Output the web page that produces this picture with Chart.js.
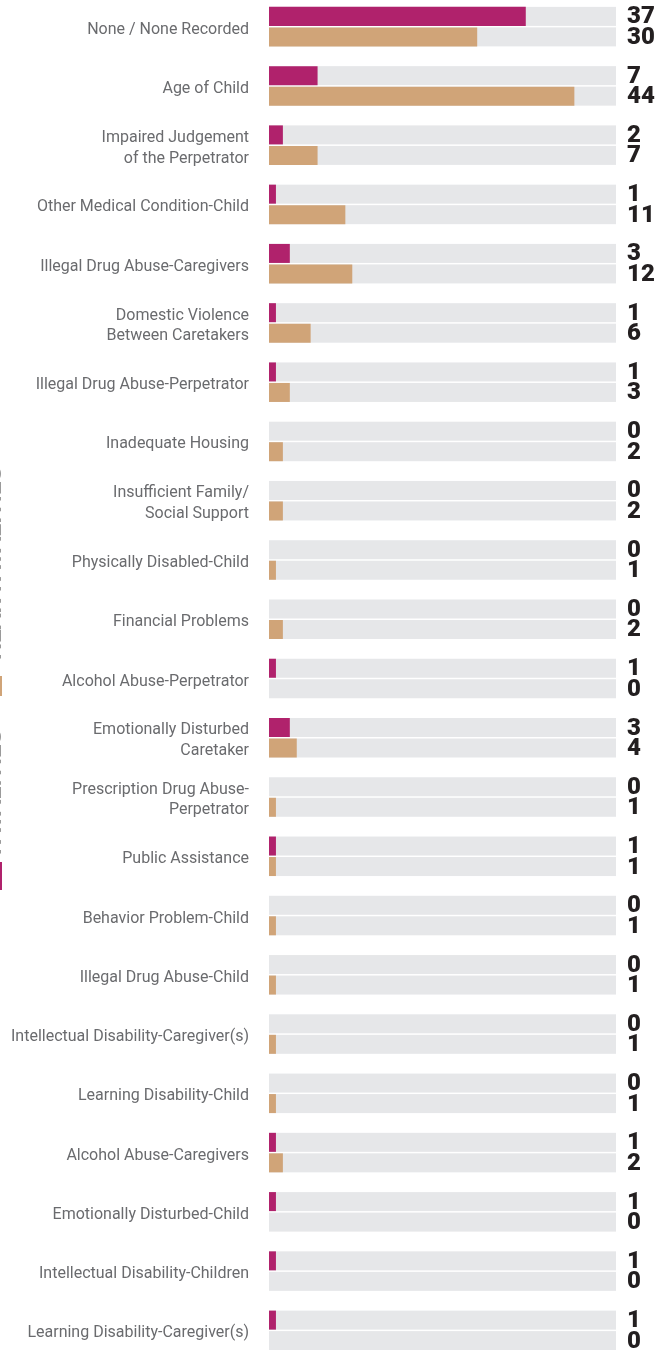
<!DOCTYPE html>
<html>
<head>
    <title>Risk factors</title>
    <meta charset="utf-8">
    <script src="https://cdn.jsdelivr.net/npm/chart.js@4.4.1/dist/chart.umd.min.js"></script>
    <style>
        body{ margin:0; background:#fff; overflow:hidden; width:656px; height:1350px; position:relative;}
        .wrapper{ position:absolute; left:0; top:-3px; width:656px; height:1363px;}
    </style>
</head>
<body>
    <div class="wrapper">
        <canvas id="myChart"></canvas>
    </div>

    <script>
        // categories (multi-line ones as arrays)
        var categories = [
            'None / None Recorded',
            'Age of Child',
            ['Impaired Judgement', 'of the Perpetrator'],
            'Other Medical Condition-Child',
            'Illegal Drug Abuse-Caregivers',
            ['Domestic Violence', 'Between Caretakers'],
            'Illegal Drug Abuse-Perpetrator',
            'Inadequate Housing',
            ['Insufficient Family/', 'Social Support'],
            'Physically Disabled-Child',
            'Financial Problems',
            'Alcohol Abuse-Perpetrator',
            ['Emotionally Disturbed', 'Caretaker'],
            ['Prescription Drug Abuse-', 'Perpetrator'],
            'Public Assistance',
            'Behavior Problem-Child',
            'Illegal Drug Abuse-Child',
            'Intellectual Disability-Caregiver(s)',
            'Learning Disability-Child',
            'Alcohol Abuse-Caregivers',
            'Emotionally Disturbed-Child',
            'Intellectual Disability-Children',
            'Learning Disability-Caregiver(s)'
        ];
        var fatalities     = [37, 7, 2, 1, 3, 1, 1, 0, 0, 0, 0, 1, 3, 0, 1, 0, 0, 0, 0, 1, 1, 1, 1];
        var nearFatalities = [30, 44, 7, 11, 12, 6, 3, 2, 2, 1, 2, 0, 4, 1, 1, 1, 1, 1, 1, 2, 0, 0, 0];
        var axisMax = 50;

        var MAGENTA = '#b0226c';
        var TAN = '#d0a478';
        var TRACK = '#e6e7e9';

        // grey track behind every bar
        const trackPlugin = {
            id: 'track',
            beforeDatasetsDraw(chart){
                var ctx = chart.ctx;
                var xs = chart.scales.x;
                var x0 = xs.getPixelForValue(0);
                var x1 = xs.getPixelForValue(axisMax);
                ctx.save();
                ctx.fillStyle = TRACK;
                chart.data.datasets.forEach(function(ds, i){
                    chart.getDatasetMeta(i).data.forEach(function(bar){
                        var p = bar.getProps(['y', 'height'], true);
                        ctx.fillRect(x0, p.y - p.height/2, x1 - x0, p.height);
                    });
                });
                ctx.restore();
            }
        };

        // numbers on the right
        const valuePlugin = {
            id: 'values',
            afterDatasetsDraw(chart){
                var ctx = chart.ctx;
                var xs = chart.scales.x;
                var x = xs.getPixelForValue(axisMax) + 11;
                ctx.save();
                ctx.fillStyle = '#231f20';
                ctx.font = '900 24px Roboto';
                ctx.textAlign = 'left';
                ctx.textBaseline = 'middle';
                chart.data.datasets.forEach(function(ds, i){
                    chart.getDatasetMeta(i).data.forEach(function(bar, j){
                        var p = bar.getProps(['y'], true);
                        ctx.fillText(ds.data[j], x, p.y + 1);
                    });
                });
                ctx.restore();
            }
        };

        // rotated legend, mostly cut off at the left edge
        const sideLegend = {
            id: 'sideLegend',
            afterDraw(chart){
                var ctx = chart.ctx;
                ctx.save();
                ctx.fillStyle = TAN;
                ctx.fillRect(-10, 679, 12, 20);
                ctx.fillStyle = MAGENTA;
                ctx.fillRect(-10, 865, 12, 28);
                ctx.fillStyle = '#9a9a9a';
                ctx.font = 'bold 24px Roboto';
                ctx.save();
                ctx.translate(1, 663);
                ctx.rotate(-Math.PI/2);
                ctx.fillText('NEAR FATALITIES', 0, 0);
                ctx.restore();
                ctx.translate(1, 858);
                ctx.rotate(-Math.PI/2);
                ctx.fillText('FATALITIES', 0, 0);
                ctx.restore();
            }
        };

        const chartdata = {
            labels: categories,
            datasets: [{
                label: 'Fatalities',
                backgroundColor: MAGENTA,
                data: fatalities
            },
            {
                label: 'Near Fatalities',
                backgroundColor: TAN,
                data: nearFatalities
            }]
        };

        const config = {
            type: 'bar',
            data: chartdata,
            options: {
                indexAxis: 'y',
                animation: false,
                responsive: true,
                maintainAspectRatio: false,
                categoryPercentage: 0.692,
                barPercentage: 0.927,
                borderWidth: 0,
                layout: { padding: { left: 0, right: 40, top: 0, bottom: 0 } },
                plugins: {
                    legend: { display: false },
                    tooltip: { enabled: false }
                },
                scales: {
                    x: {
                        display: false,
                        min: 0,
                        max: axisMax
                    },
                    y: {
                        grid: { display: false, drawTicks: false },
                        border: { display: false },
                        ticks: {
                            color: '#6a6b6e',
                            font: { family: 'Roboto', size: 16, lineHeight: 1.3 },
                            padding: 20,
                            labelOffset: 3,
                            autoSkip: false
                        },
                        afterFit: function(scale){
                            scale.width = 269;
                            scale.paddingTop = 0;
                            scale.paddingBottom = 0;
                        }
                    }
                }
            },
            plugins: [trackPlugin, valuePlugin, sideLegend]
        };

        var myChart = new Chart(document.getElementById('myChart'), config);
    </script>
</body>
</html>
